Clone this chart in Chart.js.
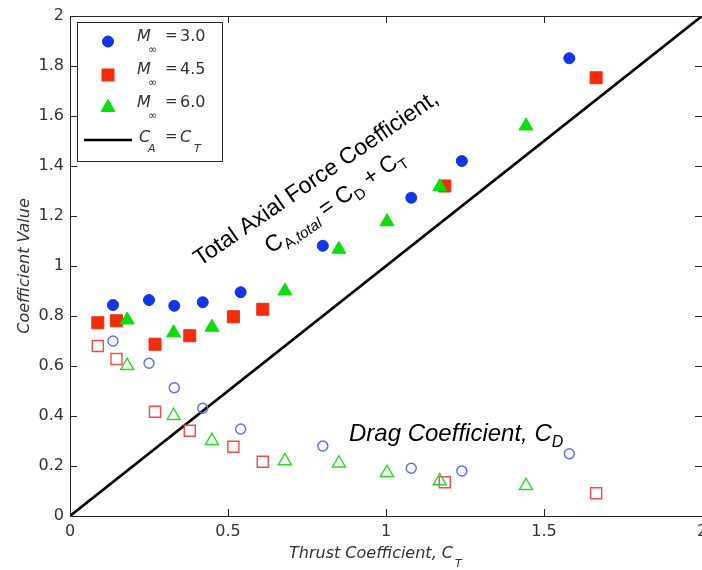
<!DOCTYPE html>
<html>
<head>
<meta charset="utf-8">
<script src="https://cdn.jsdelivr.net/npm/chart.js@4.4.0/dist/chart.umd.min.js"></script>
<style>
  html, body { margin: 0; padding: 0; background: #fff; }
  #wrap { width: 702px; height: 570px; position: relative; }
</style>
</head>
<body>
<div id="wrap"><canvas id="chart"></canvas></div>
<script>
// ---- data ----
// thrust coefficient C_T, total axial force coeff, drag coeff for each Mach number
const ctM30    = [0.136, 0.25, 0.33, 0.42, 0.54, 0.80, 1.08, 1.24, 1.58];
const totalM30 = [0.844, 0.864, 0.841, 0.855, 0.895, 1.081, 1.273, 1.42, 1.831];
const dragM30  = [0.70, 0.611, 0.513, 0.431, 0.348, 0.28, 0.191, 0.18, 0.249];

const ctM45    = [0.088, 0.147, 0.269, 0.379, 0.517, 0.61, 1.186, 1.665];
const totalM45 = [0.773, 0.781, 0.687, 0.721, 0.797, 0.827, 1.32, 1.753];
const dragM45  = [0.68, 0.628, 0.417, 0.341, 0.277, 0.217, 0.135, 0.091];

const ctM60    = [0.181, 0.328, 0.449, 0.68, 0.851, 1.003, 1.17, 1.443];
const totalM60 = [0.784, 0.733, 0.755, 0.90, 1.067, 1.177, 1.317, 1.56];
const dragM60  = [0.601, 0.401, 0.301, 0.22, 0.211, 0.173, 0.14, 0.121];

// C_A = C_T reference line
const refLine = [0, 2];

const machLabels = ['3.0', '4.5', '6.0'];
const xTickLabels = ['0', '0.5', '1', '1.5', '2'];
const yTickLabels = ['0', '0.2', '0.4', '0.6', '0.8', '1', '1.2', '1.4', '1.6', '1.8', '2'];

// ---- styles ----
const BLUE = '#1234f0', RED = '#f42c0c', GREEN = '#06e006';
const BLUE_H = '#5a6cf2', RED_H = '#f24a4a', GREEN_H = '#28d628';
const TXT = '#333333';
const TICK_FONT = '"DejaVu Sans", sans-serif';

function pts(xs, ys) {
    return xs.map((v, i) => ({ x: v, y: ys[i] }));
}

function filled(data, style, color, r) {
    return {
        data: data, pointStyle: style, pointRadius: r, pointHoverRadius: r,
        backgroundColor: color, borderColor: color, borderWidth: 1, showLine: false
    };
}

function hollow(data, style, color, r) {
    return {
        data: data, pointStyle: style, pointRadius: r, pointHoverRadius: r,
        backgroundColor: 'rgba(0,0,0,0)', borderColor: color, borderWidth: 1.4, showLine: false
    };
}

const datasets = [
    filled(pts(ctM30, totalM30), 'circle', BLUE, 5.5),
    filled(pts(ctM60, totalM60), 'triangle', GREEN, 8),
    filled(pts(ctM45, totalM45), 'rect', RED, 8.5),
    hollow(pts(ctM30, dragM30), 'circle', BLUE_H, 5),
    hollow(pts(ctM60, dragM60), 'triangle', GREEN_H, 7.5),
    hollow(pts(ctM45, dragM45), 'rect', RED_H, 7.8),
    {
        data: pts(refLine, refLine), showLine: true, borderColor: '#000',
        borderWidth: 2.6, pointRadius: 0, fill: false
    }
];

// draw a run of text pieces: {t, size, italic, dy, dx}
function drawRun(ctx, x, y, parts, family) {
    let cx = x;
    parts.forEach(p => {
        ctx.font = (p.italic ? 'italic ' : '') + p.size + 'px ' + family;
        cx += p.dx || 0;
        ctx.fillText(p.t, cx, y + (p.dy || 0));
        cx += ctx.measureText(p.t).width;
    });
}

function marker(ctx, style, color, x, y, r) {
    ctx.fillStyle = color;
    ctx.strokeStyle = color;
    ctx.lineWidth = 1;
    Chart.helpers.drawPoint(ctx, { pointStyle: style, radius: r, rotation: 0, borderWidth: 1 }, x, y);
}

const decorPlugin = {
    id: 'decor',
    afterDatasetsDraw(chart) {
        const { ctx, chartArea: a, scales: { x, y } } = chart;
        ctx.save();

        // axes box + inward ticks
        ctx.strokeStyle = '#262626';
        ctx.lineWidth = 1;
        ctx.beginPath();
        ctx.moveTo(a.left + 0.5, a.top + 0.5);
        ctx.lineTo(a.right + 0.5, a.top + 0.5);
        ctx.moveTo(a.left + 0.5, a.top);
        ctx.lineTo(a.left + 0.5, a.bottom + 0.5);
        ctx.lineTo(a.right, a.bottom + 0.5);
        const tl = 7;
        x.ticks.forEach(t => {
            const px = Math.round(x.getPixelForValue(t.value)) + 0.5;
            ctx.moveTo(px, a.bottom); ctx.lineTo(px, a.bottom - tl);
            ctx.moveTo(px, a.top); ctx.lineTo(px, a.top + tl);
        });
        y.ticks.forEach(t => {
            const py = Math.round(y.getPixelForValue(t.value)) + 0.5;
            ctx.moveTo(a.left, py); ctx.lineTo(a.left + tl, py);
            ctx.moveTo(a.right, py); ctx.lineTo(a.right - tl, py);
        });
        ctx.stroke();

        // legend
        ctx.fillStyle = '#fff';
        ctx.fillRect(77.5, 22.5, 145, 139);
        ctx.strokeRect(77.5, 22.5, 145, 139);
        const rowsY = [41.5, 75, 107.5];
        const styles = [['circle', BLUE, 5.5], ['rect', RED, 8.5], ['triangle', GREEN, 8]];
        rowsY.forEach((ry, i) => {
            const s = styles[i];
            marker(ctx, s[0], s[1], 108, ry, s[2]);
            ctx.fillStyle = TXT;
            ctx.textBaseline = 'alphabetic';
            ctx.font = 'italic 16px ' + TICK_FONT;
            ctx.fillText('M', 137, ry - 1);
            ctx.font = '11px ' + TICK_FONT;
            ctx.fillText('\u221E', 148, ry + 11);
            ctx.font = '15px ' + TICK_FONT;
            ctx.fillText('=', 165, ry - 2);
            ctx.font = '16px ' + TICK_FONT;
            ctx.fillText(machLabels[i], 180, ry - 1);
        });
        ctx.strokeStyle = '#000';
        ctx.lineWidth = 2.6;
        ctx.beginPath();
        ctx.moveTo(84, 140);
        ctx.lineTo(132, 140);
        ctx.stroke();
        ctx.fillStyle = TXT;
        ctx.font = 'italic 16px ' + TICK_FONT;
        ctx.fillText('C', 139, 142);
        ctx.fillText('C', 180, 142);
        ctx.font = 'italic 11px ' + TICK_FONT;
        ctx.fillText('A', 148, 152);
        ctx.fillText('T', 194, 152);
        ctx.font = '15px ' + TICK_FONT;
        ctx.fillText('=', 165, 141);

        // annotations
        ctx.fillStyle = '#000';
        const ang = -34.5 * Math.PI / 180;
        ctx.save();
        ctx.translate(200, 266.5);
        ctx.rotate(ang);
        ctx.font = '23px "Liberation Sans", Arial, sans-serif';
        ctx.fillText('Total Axial Force Coefficient,', 0, 0);
        ctx.restore();

        ctx.save();
        ctx.translate(271, 254);
        ctx.rotate(ang);
        drawRun(ctx, 0, 0, [
            { t: 'C', size: 23 },
            { t: 'A,', size: 15, dy: 6 },
            { t: 'total', size: 15, dy: 6, italic: true },
            { t: ' = C', size: 23 },
            { t: 'D', size: 15, dy: 6 },
            { t: ' + C', size: 23 },
            { t: 'T', size: 15, dy: 6 }
        ], '"Liberation Sans", Arial, sans-serif');
        ctx.restore();

        drawRun(ctx, 349, 441, [
            { t: 'Drag Coefficient, C', size: 24, italic: true },
            { t: 'D', size: 16, dy: 6, italic: true }
        ], '"Liberation Sans", Arial, sans-serif');

        // x axis title
        ctx.fillStyle = TXT;
        drawRun(ctx, 289, 558, [
            { t: 'Thrust Coefficient, C', size: 16, italic: true },
            { t: 'T', size: 11, dy: 9, dx: 2, italic: true }
        ], TICK_FONT);

        ctx.restore();
    }
};

new Chart(document.getElementById('chart'), {
    type: 'scatter',
    data: { datasets: datasets },
    options: {
        responsive: true,
        maintainAspectRatio: false,
        animation: false,
        layout: { autoPadding: false, padding: { top: 16, right: 0, bottom: 0, left: 0 } },
        plugins: {
            legend: { display: false },
            tooltip: { enabled: false }
        },
        scales: {
            x: {
                type: 'linear', min: 0, max: 2,
                grid: { display: false, drawTicks: false },
                border: { display: false },
                ticks: {
                    stepSize: 0.5, padding: 6, color: TXT, maxRotation: 0,
                    font: { family: TICK_FONT, size: 16 },
                    callback: (v, i) => xTickLabels[i]
                },
                afterFit: s => { s.height = 54; s.paddingLeft = 0; s.paddingRight = 0; }
            },
            y: {
                type: 'linear', min: 0, max: 2,
                grid: { display: false, drawTicks: false },
                border: { display: false },
                ticks: {
                    stepSize: 0.2, padding: 6, color: TXT,
                    font: { family: TICK_FONT, size: 16 },
                    callback: (v, i) => yTickLabels[i]
                },
                title: {
                    display: true, text: 'Coefficient Value', color: TXT,
                    font: { family: TICK_FONT, size: 16, style: 'italic' },
                    padding: { top: 15, bottom: 0 }
                },
                afterFit: s => { s.width = 70; s.paddingTop = 0; s.paddingBottom = 0; }
            }
        }
    },
    plugins: [decorPlugin]
});
</script>
</body>
</html>
